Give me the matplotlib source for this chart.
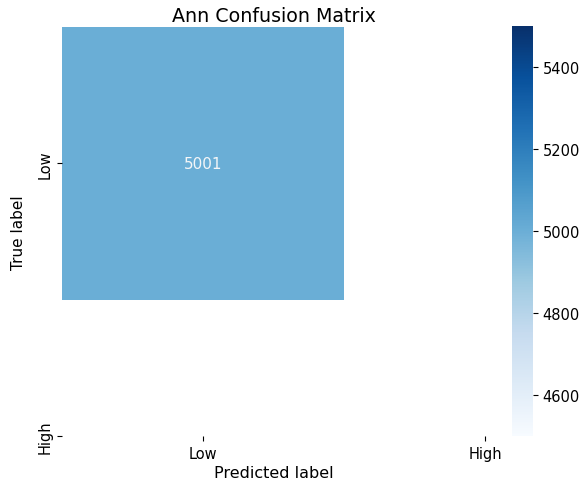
import matplotlib
matplotlib.use("Agg")
import matplotlib.pyplot as plt
import seaborn as sns
import numpy as np

cm = np.array([[5001]])
labels = ["Low", "High"]
title = "Ann Confusion Matrix"

fig = plt.figure(figsize=(5.85, 4.85), dpi=100)
ax = fig.add_axes([62/585, 48/485, (485-62)/585, (437-28)/485])
cax = fig.add_axes([512/585, 48/485, 21/585, (437-27)/485])

sns.heatmap(cm, annot=True, fmt="d", cmap="Blues", ax=ax, cbar_ax=cax,
            vmin=4500.9, vmax=5501.1, annot_kws={"color": "#f4f6f8", "fontsize": 11})
ax.set_xticks([0.5, 1.5])
ax.set_xticklabels(labels, rotation=0, fontsize=10.5)
ax.set_yticks([0.5, 1.5])
ax.set_yticklabels(labels, rotation=90, va="center", fontsize=10.5)
ax.set_xlim(0, 1.5)
ax.set_ylim(1.5, 0)
ax.set_xlabel("Predicted label", fontsize=11.5, labelpad=3)
ax.set_ylabel("True label", fontsize=11, labelpad=8)
ax.set_title(title, fontsize=13.7, pad=4)
cax.tick_params(labelsize=10.5)
cax.set_yticks([4600, 4800, 5000, 5200, 5400])

fig.savefig("out.png", dpi=100)
